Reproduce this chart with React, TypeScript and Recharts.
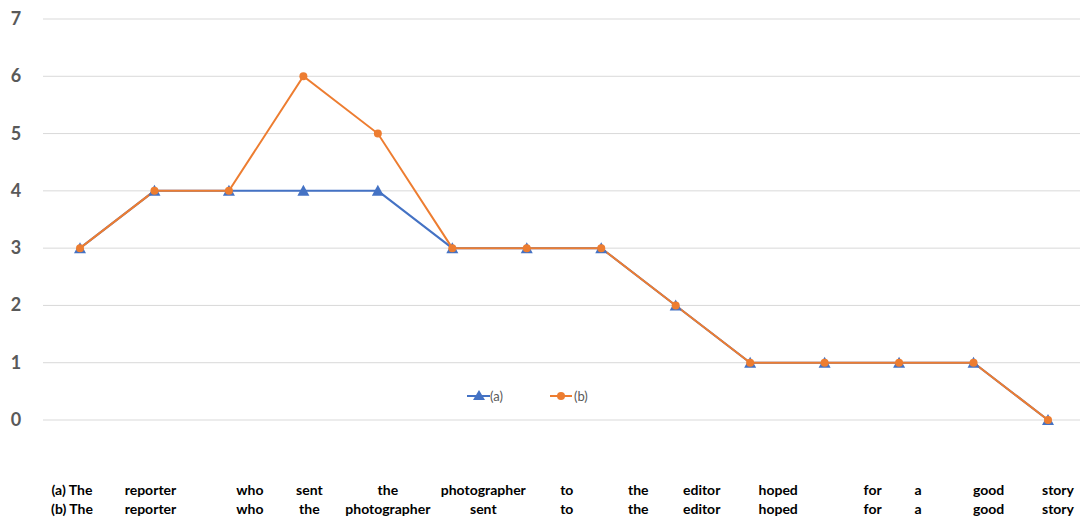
import { LineChart, Line, CartesianGrid, XAxis, YAxis, Legend } from 'recharts';

const labelsA = ['(a) The', 'reporter', 'who', 'sent', 'the', 'photographer', 'to', 'the', 'editor', 'hoped', 'for', 'a', 'good', 'story'];
const labelsB = ['(b) The', 'reporter', 'who', 'the', 'photographer', 'sent', 'to', 'the', 'editor', 'hoped', 'for', 'a', 'good', 'story'];
const seriesA = [3, 4, 4, 4, 4, 3, 3, 3, 2, 1, 1, 1, 1, 0];
const seriesB = [3, 4, 4, 6, 5, 3, 3, 3, 2, 1, 1, 1, 1, 0];
const yTicks = [0, 1, 2, 3, 4, 5, 6, 7];

// the word table under the chart does not line up with the points
const labelShift = [-8, -4, 21, 6, 10, 31, 40, 37, 26, 28, 48, 19, 15, 10];

const BLUE = '#4472C4';
const ORANGE = '#ED7D31';
const FONT = 'Lato, "Open Sans", sans-serif';

const data = seriesA.map((a, i) => ({ idx: i, a, b: seriesB[i] }));

function WordTick(props: any) {
  const { x, y, payload } = props;
  const i = payload.index;
  const cx = x + labelShift[i];
  return (
    <g>
      <text x={cx} y={y + 67} textAnchor="middle" fontFamily={FONT} fontWeight={700} fontSize={14} fill="#000">
        {labelsA[i]}
      </text>
      <text x={cx} y={y + 86} textAnchor="middle" fontFamily={FONT} fontWeight={700} fontSize={14} fill="#000">
        {labelsB[i]}
      </text>
    </g>
  );
}

function NumTick(props: any) {
  const { y, payload } = props;
  return (
    <text x={16} y={y + 6} textAnchor="middle" fontFamily={FONT} fontWeight={700} fontSize={18} fill="#595959">
      {payload.value}
    </text>
  );
}

function Triangle(props: any) {
  const { cx, cy } = props;
  if (cx == null || cy == null) return null;
  return <polygon points={`${cx - 6},${cy + 5} ${cx + 6},${cy + 5} ${cx},${cy - 6}`} fill={BLUE} />;
}

function LegendBox() {
  return (
    <svg width={140} height={20}>
      <line x1={7} y1={10} x2={30} y2={10} stroke={BLUE} strokeWidth={2} />
      <polygon points="13,14 25,14 19,4" fill={BLUE} />
      <text x={30} y={15} fontFamily={FONT} fontSize={13} fill="#595959">(a)</text>
      <line x1={90} y1={10} x2={112} y2={10} stroke={ORANGE} strokeWidth={2} />
      <circle cx={101} cy={10} r={4} fill={ORANGE} />
      <text x={114} y={15} fontFamily={FONT} fontSize={13} fill="#595959">(b)</text>
    </svg>
  );
}

export default function App() {
  return (
    <div style={{ position: 'absolute', left: 0, top: 0, width: 1080, height: 517, overflow: 'hidden', background: '#fff' }}>
      <LineChart width={1085} height={517} data={data} margin={{ top: 19, right: 0, bottom: 8, left: 0 }}>
        <CartesianGrid horizontal vertical={false} stroke="#d9d9d9" />
        <XAxis
          dataKey="idx"
          type="category"
          height={65}
          padding={{ left: 37, right: 37 }}
          axisLine={false}
          tickLine={false}
          interval={0}
          tick={<WordTick />}
        />
        <YAxis width={43} domain={[0, 7]} ticks={yTicks} axisLine={false} tickLine={false} tick={<NumTick />} />
        <Legend content={<LegendBox />} wrapperStyle={{ position: 'absolute', top: 386, left: 460, width: 140 }} />
        <Line dataKey="a" stroke={BLUE} strokeWidth={2} dot={<Triangle />} isAnimationActive={false} />
        <Line dataKey="b" stroke={ORANGE} strokeWidth={2} dot={{ r: 4, fill: ORANGE, stroke: ORANGE, strokeWidth: 0 }} isAnimationActive={false} />
      </LineChart>
    </div>
  );
}
